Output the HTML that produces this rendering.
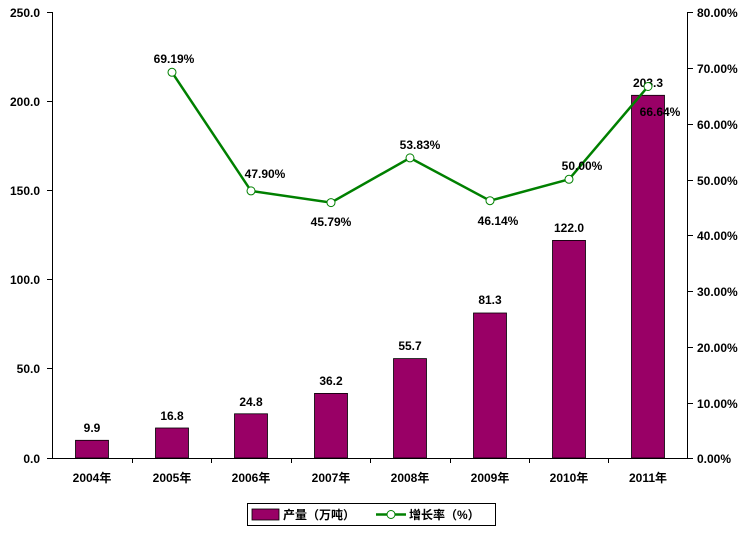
<!DOCTYPE html>
<html><head><meta charset="utf-8"><style>
body{margin:0;background:#fff;}
text{font-family:"Liberation Sans","Noto Sans CJK SC",sans-serif;font-size:12px;font-weight:bold;fill:#000;}
</style></head><body>
<svg width="746" height="529" xmlns="http://www.w3.org/2000/svg">
<g stroke="#000" stroke-width="1">
<line x1="52.5" y1="12" x2="52.5" y2="458"/>
<line x1="687.5" y1="12" x2="687.5" y2="458"/>
<line x1="52" y1="458.5" x2="688" y2="458.5"/>
<line x1="47" y1="12.5" x2="52" y2="12.5"/><line x1="47" y1="101.5" x2="52" y2="101.5"/><line x1="47" y1="190.5" x2="52" y2="190.5"/><line x1="47" y1="279.5" x2="52" y2="279.5"/><line x1="47" y1="368.5" x2="52" y2="368.5"/><line x1="47" y1="458.5" x2="52" y2="458.5"/>
<line x1="688" y1="12.5" x2="693" y2="12.5"/><line x1="688" y1="68.5" x2="693" y2="68.5"/><line x1="688" y1="124.5" x2="693" y2="124.5"/><line x1="688" y1="180.5" x2="693" y2="180.5"/><line x1="688" y1="235.5" x2="693" y2="235.5"/><line x1="688" y1="291.5" x2="693" y2="291.5"/><line x1="688" y1="347.5" x2="693" y2="347.5"/><line x1="688" y1="403.5" x2="693" y2="403.5"/><line x1="688" y1="458.5" x2="693" y2="458.5"/>
<line x1="132.5" y1="458" x2="132.5" y2="463"/><line x1="211.5" y1="458" x2="211.5" y2="463"/><line x1="291.5" y1="458" x2="291.5" y2="463"/><line x1="370.5" y1="458" x2="370.5" y2="463"/><line x1="450.5" y1="458" x2="450.5" y2="463"/><line x1="529.5" y1="458" x2="529.5" y2="463"/><line x1="608.5" y1="458" x2="608.5" y2="463"/>
</g>
<g text-anchor="end">
<text x="40" y="17">250.0</text><text x="40" y="106">200.0</text><text x="40" y="195">150.0</text><text x="40" y="284">100.0</text><text x="40" y="373">50.0</text><text x="40" y="463">0.0</text>
</g>
<g text-anchor="start">
<text x="697" y="17">80.00%</text><text x="697" y="73">70.00%</text><text x="697" y="129">60.00%</text><text x="697" y="185">50.00%</text><text x="697" y="240">40.00%</text><text x="697" y="296">30.00%</text><text x="697" y="352">20.00%</text><text x="697" y="408">10.00%</text><text x="697" y="463">0.00%</text>
</g>
<g fill="#990066" stroke="#000" stroke-width="0.8">
<rect x="75.5" y="440.3" width="33" height="17.7"/>
<rect x="155.5" y="428" width="33" height="30"/>
<rect x="234.5" y="413.8" width="33" height="44.2"/>
<rect x="314.5" y="393.4" width="33" height="64.6"/>
<rect x="393.5" y="358.6" width="33" height="99.4"/>
<rect x="473.5" y="313" width="33" height="145"/>
<rect x="552.5" y="240.4" width="33" height="217.6"/>
<rect x="631.5" y="95.3" width="33" height="362.7"/>
</g>
<g text-anchor="middle">
<text x="92" y="432">9.9</text><text x="172" y="420">16.8</text><text x="251" y="406">24.8</text><text x="331" y="385">36.2</text><text x="410" y="350">55.7</text><text x="490" y="304">81.3</text><text x="569" y="232">122.0</text><text x="648" y="87">203.3</text>
</g>
<polyline points="172,72.3 251,190.9 331,202.6 410,157.9 490,200.7 569,179.3 648,86.5" fill="none" stroke="#008000" stroke-width="2.5"/>
<g fill="#fff" stroke="#008000" stroke-width="1">
<circle cx="172" cy="72.3" r="4"/><circle cx="251" cy="190.9" r="4"/><circle cx="331" cy="202.6" r="4"/><circle cx="410" cy="157.9" r="4"/><circle cx="490" cy="200.7" r="4"/><circle cx="569" cy="179.3" r="4"/><circle cx="648" cy="86.5" r="4"/>
</g>
<g text-anchor="middle">
<text x="174" y="63">69.19%</text><text x="265" y="178">47.90%</text><text x="331" y="226">45.79%</text><text x="420" y="149">53.83%</text><text x="498" y="225">46.14%</text><text x="582" y="170">50.00%</text><text x="660" y="116">66.64%</text>
</g>
<g text-anchor="middle">
<text x="92" y="482">2004年</text><text x="172" y="482">2005年</text><text x="251" y="482">2006年</text><text x="331" y="482">2007年</text><text x="410" y="482">2008年</text><text x="490" y="482">2009年</text><text x="569" y="482">2010年</text><text x="648" y="482">2011年</text>
</g>
<rect x="247.5" y="503.5" width="248" height="22" fill="#fff" stroke="#000"/>
<rect x="252" y="509" width="27" height="11" fill="#990066" stroke="#000" stroke-width="0.8"/>
<text x="283" y="519">产量（万吨）</text>
<line x1="376" y1="514.5" x2="406" y2="514.5" stroke="#008000" stroke-width="2.5"/>
<circle cx="391" cy="514.5" r="4" fill="#fff" stroke="#008000"/>
<text x="409" y="519">增长率（%）</text>
</svg>
</body></html>
